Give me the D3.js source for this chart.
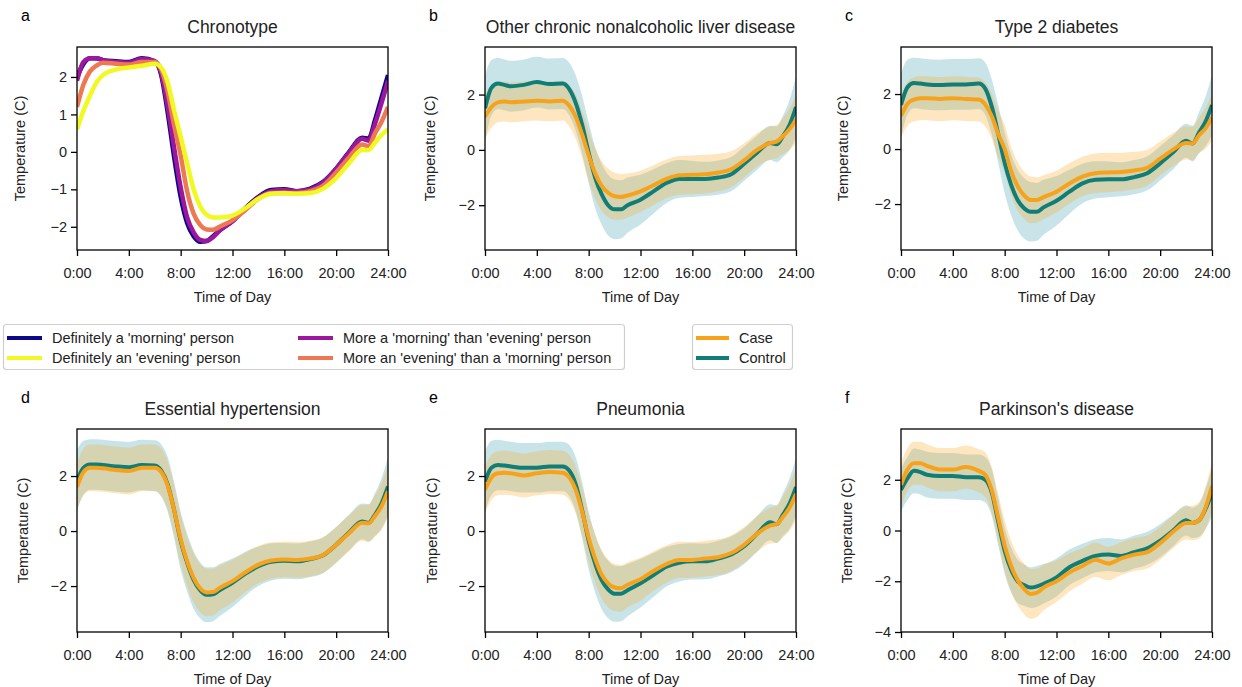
<!DOCTYPE html>
<html>
<head>
<meta charset="utf-8">
<script src="https://cdn.jsdelivr.net/npm/d3@7"></script>
<style>
  body { margin: 0; background: #fff; }
  svg { font-family: "Liberation Sans", Arial, sans-serif; }
</style>
</head>
<body>
<svg id="chart" width="1242" height="687"></svg>
<script>
// hours of the day at which every curve is sampled
const hours = [0, 0.5, 1, 1.5, 2, 3, 4, 5, 6, 6.5, 7, 7.5, 8, 8.5, 9, 9.5, 10, 10.5, 11, 12, 13, 14, 15, 16, 17, 18, 19, 20, 21, 22, 22.5, 23, 23.5, 24];
const hourTicks = [0, 4, 8, 12, 16, 20, 24];

// panel a: chronotype means
const chronotypeNames = ["Definitely a 'morning' person", "More a 'morning' than 'evening' person", "More an 'evening' than a 'morning' person", "Definitely an 'evening' person"];
const definitelyMorning = [2.0, 2.35, 2.5, 2.5, 2.45, 2.42, 2.4, 2.5, 2.42, 2.05, 1.05, -0.15, -1.2, -1.9, -2.25, -2.4, -2.38, -2.25, -2.1, -1.85, -1.5, -1.2, -1.02, -1.0, -1.05, -0.98, -0.8, -0.45, 0.0, 0.38, 0.35, 0.85, 1.45, 2.05];
const moreMorning = [1.9, 2.4, 2.5, 2.5, 2.45, 2.4, 2.38, 2.48, 2.42, 2.1, 1.2, 0.1, -0.95, -1.75, -2.15, -2.35, -2.38, -2.28, -2.1, -1.85, -1.52, -1.22, -1.05, -1.02, -1.05, -1.0, -0.82, -0.45, -0.02, 0.35, 0.3, 0.75, 1.3, 1.9];
const moreEvening = [1.2, 1.8, 2.15, 2.3, 2.38, 2.35, 2.33, 2.4, 2.4, 2.2, 1.6, 0.7, -0.1, -1.05, -1.65, -1.95, -2.07, -2.08, -2.0, -1.82, -1.55, -1.25, -1.1, -1.1, -1.1, -1.05, -0.9, -0.55, -0.15, 0.2, 0.15, 0.5, 0.8, 1.2];
const definitelyEvening = [0.6, 1.1, 1.5, 1.85, 2.05, 2.2, 2.25, 2.3, 2.35, 2.25, 1.85, 1.1, 0.4, -0.3, -1.0, -1.45, -1.68, -1.75, -1.75, -1.7, -1.5, -1.25, -1.12, -1.1, -1.12, -1.1, -0.98, -0.7, -0.3, 0.05, 0.05, 0.25, 0.45, 0.6];

// panels b-f: case / control means and band half-widths
const groupNames = ["Case", "Control"];

const liverCase = [1.2, 1.55, 1.72, 1.75, 1.72, 1.75, 1.78, 1.75, 1.78, 1.6, 1.2, 0.55, -0.2, -0.85, -1.3, -1.55, -1.68, -1.7, -1.65, -1.5, -1.28, -1.05, -0.92, -0.9, -0.88, -0.82, -0.7, -0.38, 0.0, 0.25, 0.3, 0.5, 0.75, 1.1];
const liverCaseSd = [0.8, 0.75, 0.72, 0.72, 0.72, 0.72, 0.72, 0.72, 0.72, 0.75, 0.8, 0.85, 0.9, 0.9, 0.9, 0.88, 0.85, 0.82, 0.8, 0.75, 0.72, 0.7, 0.7, 0.7, 0.7, 0.68, 0.65, 0.62, 0.6, 0.6, 0.6, 0.65, 0.75, 0.85];
const liverControl = [1.5, 2.25, 2.4, 2.35, 2.3, 2.35, 2.45, 2.38, 2.4, 2.2, 1.7, 0.9, -0.1, -1.0, -1.6, -2.0, -2.15, -2.15, -2.0, -1.8, -1.5, -1.2, -1.05, -1.05, -1.05, -1.0, -0.88, -0.5, -0.1, 0.25, 0.2, 0.5, 0.9, 1.55];
const liverControlSd = [1.2, 1.0, 0.92, 0.92, 0.92, 0.92, 0.92, 0.92, 0.92, 0.95, 1.0, 1.05, 1.1, 1.1, 1.1, 1.1, 1.08, 1.05, 1.0, 0.9, 0.8, 0.72, 0.68, 0.65, 0.62, 0.62, 0.62, 0.62, 0.62, 0.62, 0.65, 0.75, 0.9, 1.1];

const diabetesCase = [1.2, 1.65, 1.8, 1.85, 1.85, 1.82, 1.85, 1.82, 1.8, 1.62, 1.2, 0.55, 0.0, -0.8, -1.35, -1.68, -1.85, -1.85, -1.75, -1.55, -1.25, -1.0, -0.88, -0.85, -0.83, -0.78, -0.68, -0.35, -0.02, 0.22, 0.2, 0.5, 0.75, 1.15];
const diabetesCaseSd = [0.8, 0.8, 0.8, 0.8, 0.8, 0.8, 0.8, 0.8, 0.8, 0.8, 0.82, 0.85, 0.88, 0.88, 0.88, 0.86, 0.85, 0.82, 0.8, 0.76, 0.73, 0.72, 0.72, 0.72, 0.7, 0.68, 0.65, 0.62, 0.6, 0.6, 0.6, 0.65, 0.75, 0.85];
const diabetesControl = [1.6, 2.25, 2.4, 2.38, 2.35, 2.33, 2.35, 2.35, 2.38, 2.2, 1.55, 0.55, -0.5, -1.3, -1.85, -2.15, -2.28, -2.28, -2.12, -1.88, -1.55, -1.25, -1.12, -1.1, -1.1, -1.02, -0.88, -0.52, -0.12, 0.3, 0.2, 0.6, 1.0, 1.6];
const diabetesControlSd = [1.15, 1.0, 0.92, 0.92, 0.92, 0.92, 0.92, 0.92, 0.92, 0.95, 1.0, 1.05, 1.1, 1.1, 1.1, 1.1, 1.08, 1.05, 1.0, 0.9, 0.8, 0.72, 0.68, 0.65, 0.62, 0.62, 0.62, 0.62, 0.62, 0.62, 0.65, 0.75, 0.9, 1.1];

const hypertensionCase = [1.6, 2.15, 2.3, 2.3, 2.28, 2.22, 2.18, 2.3, 2.3, 2.15, 1.65, 0.75, -0.3, -1.1, -1.7, -2.08, -2.23, -2.22, -2.07, -1.82, -1.5, -1.22, -1.07, -1.03, -1.05, -1.0, -0.87, -0.5, -0.08, 0.3, 0.28, 0.55, 0.9, 1.45];
const hypertensionCaseSd = [0.85, 0.85, 0.85, 0.85, 0.85, 0.85, 0.85, 0.85, 0.85, 0.86, 0.88, 0.9, 0.9, 0.9, 0.9, 0.88, 0.87, 0.85, 0.82, 0.78, 0.72, 0.68, 0.66, 0.65, 0.65, 0.65, 0.65, 0.65, 0.65, 0.65, 0.68, 0.75, 0.85, 0.95];
const hypertensionControl = [1.85, 2.3, 2.42, 2.42, 2.4, 2.35, 2.32, 2.4, 2.38, 2.2, 1.7, 0.75, -0.35, -1.15, -1.78, -2.15, -2.32, -2.3, -2.15, -1.88, -1.55, -1.28, -1.12, -1.08, -1.1, -1.02, -0.88, -0.5, -0.05, 0.35, 0.3, 0.6, 1.0, 1.62];
const hypertensionControlSd = [1.1, 0.98, 0.92, 0.92, 0.92, 0.92, 0.92, 0.92, 0.92, 0.95, 1.0, 1.02, 1.05, 1.05, 1.05, 1.02, 1.0, 0.98, 0.95, 0.88, 0.8, 0.72, 0.68, 0.65, 0.65, 0.65, 0.65, 0.65, 0.65, 0.65, 0.68, 0.78, 0.92, 1.05];

const pneumoniaCase = [1.5, 1.95, 2.1, 2.12, 2.1, 2.02, 2.1, 2.15, 2.12, 1.95, 1.5, 0.7, -0.25, -1.0, -1.58, -1.9, -2.05, -2.08, -1.95, -1.75, -1.45, -1.2, -1.05, -1.05, -1.0, -0.95, -0.8, -0.5, -0.1, 0.2, 0.25, 0.52, 0.85, 1.35];
const pneumoniaCaseSd = [0.85, 0.82, 0.8, 0.8, 0.8, 0.8, 0.8, 0.8, 0.8, 0.82, 0.85, 0.88, 0.88, 0.88, 0.88, 0.87, 0.86, 0.85, 0.82, 0.78, 0.72, 0.68, 0.66, 0.65, 0.65, 0.65, 0.65, 0.65, 0.65, 0.65, 0.68, 0.75, 0.85, 0.95];
const pneumoniaControl = [1.8, 2.3, 2.4, 2.38, 2.35, 2.3, 2.3, 2.35, 2.35, 2.2, 1.7, 0.75, -0.35, -1.18, -1.78, -2.12, -2.28, -2.28, -2.15, -1.9, -1.6, -1.3, -1.15, -1.1, -1.1, -1.0, -0.85, -0.55, -0.1, 0.32, 0.25, 0.6, 1.0, 1.6];
const pneumoniaControlSd = [1.1, 0.98, 0.92, 0.9, 0.9, 0.9, 0.9, 0.9, 0.9, 0.93, 0.98, 1.02, 1.05, 1.05, 1.05, 1.05, 1.02, 1.0, 0.95, 0.88, 0.8, 0.72, 0.68, 0.66, 0.65, 0.65, 0.65, 0.65, 0.65, 0.65, 0.68, 0.78, 0.92, 1.05];

const parkinsonsCase = [1.8, 2.4, 2.65, 2.65, 2.55, 2.4, 2.4, 2.5, 2.35, 2.2, 1.6, 0.5, -0.6, -1.4, -1.95, -2.3, -2.5, -2.45, -2.25, -2.0, -1.65, -1.4, -1.15, -1.3, -1.1, -0.95, -0.85, -0.5, -0.05, 0.3, 0.3, 0.4, 0.9, 1.75];
const parkinsonsCaseSd = [0.85, 0.85, 0.85, 0.85, 0.85, 0.85, 0.85, 0.85, 0.85, 0.88, 0.9, 0.95, 1.0, 1.0, 1.0, 1.0, 0.98, 0.95, 0.9, 0.82, 0.75, 0.7, 0.68, 0.66, 0.65, 0.65, 0.65, 0.65, 0.65, 0.65, 0.68, 0.72, 0.82, 0.95];
const parkinsonsControl = [1.6, 2.05, 2.35, 2.3, 2.2, 2.15, 2.15, 2.1, 2.1, 2.0, 1.5, 0.35, -0.8, -1.55, -2.0, -2.15, -2.25, -2.2, -2.1, -1.85, -1.45, -1.2, -1.0, -0.95, -1.0, -0.85, -0.7, -0.4, 0.0, 0.4, 0.3, 0.4, 0.85, 1.5];
const parkinsonsControlSd = [0.85, 0.85, 0.88, 0.88, 0.9, 0.9, 0.9, 0.9, 0.9, 0.9, 0.92, 0.92, 0.9, 0.88, 0.85, 0.82, 0.8, 0.8, 0.78, 0.75, 0.7, 0.68, 0.66, 0.65, 0.65, 0.65, 0.65, 0.65, 0.62, 0.6, 0.6, 0.65, 0.8, 0.95];

// colours
const chronotypeColors = ["#0d0887", "#9c179e", "#ed7953", "#f0f921"];
const caseColor = "#f7a21b";
const controlColor = "#107d76";
const caseBand = "#f8ac2d";
const controlBand = "#4aa6b5";

const svg = d3.select("#chart");

class TemperaturePanel {
    constructor(_config, _series) {
        this.config = {
            letter: _config.letter,
            title: _config.title,
            left: _config.left,
            top: _config.top,
            width: 311,
            height: 203,
            yDomain: _config.yDomain,
            yTicks: _config.yTicks,
            lineWidth: _config.lineWidth || 4,
            labelGap: _config.labelGap || 50
        };
        this.series = _series;
        this.initVis();
    }

    initVis() {
        const vis = this;
        const c = vis.config;

        vis.chartArea = svg.append("g")
            .attr("transform", `translate(${c.left}, ${c.top})`);

        vis.xScale = d3.scaleLinear().domain([0, 24]).range([0, c.width]);
        vis.yScale = d3.scaleLinear().domain(c.yDomain).range([c.height, 0]);

        const clipId = "clip-" + c.letter;
        vis.chartArea.append("clipPath").attr("id", clipId)
            .append("rect").attr("width", c.width).attr("height", c.height);
        vis.plot = vis.chartArea.append("g").attr("clip-path", `url(#${clipId})`);

        // Axes
        vis.xAxis = vis.chartArea.append("g")
            .attr("transform", `translate(0, ${c.height})`);
        vis.yAxis = vis.chartArea.append("g");

        // Titles and labels
        svg.append("text")
            .attr("x", c.left - 56)
            .attr("y", c.top - 26)
            .attr("font-size", 16)
            .text(c.letter);

        svg.append("text")
            .attr("x", c.left + c.width / 2)
            .attr("y", c.top - 14)
            .attr("text-anchor", "middle")
            .attr("font-size", 17.5)
            .attr("fill", "#222")
            .text(c.title);

        svg.append("text")
            .attr("x", c.left + c.width / 2)
            .attr("y", c.top + c.height + 52)
            .attr("text-anchor", "middle")
            .attr("font-size", 14.5)
            .attr("fill", "#222")
            .text("Time of Day");

        svg.append("text")
            .attr("transform", `translate(${c.left - c.labelGap}, ${c.top + c.height / 2}) rotate(-90)`)
            .attr("text-anchor", "middle")
            .attr("font-size", 14.5)
            .attr("fill", "#222")
            .text("Temperature (C)");

        vis.updateVis();
    }

    updateVis() {
        const vis = this;
        const c = vis.config;

        const area = d3.area()
            .x((d, i) => vis.xScale(hours[i]))
            .y0((d, i) => vis.yScale(d.mean[i] - d.sd[i]))
            .y1((d, i) => vis.yScale(d.mean[i] + d.sd[i]))
            .curve(d3.curveMonotoneX);

        const line = d3.line()
            .x((d, i) => vis.xScale(hours[i]))
            .y(d => vis.yScale(d))
            .curve(d3.curveMonotoneX);

        // bands first, then the mean lines
        vis.series.filter(s => s.sd).forEach(s => {
            const rows = s.mean.map(() => s);
            vis.plot.append("path")
                .attr("d", area(rows))
                .attr("fill", s.band)
                .attr("fill-opacity", 0.3);
        });

        vis.series.forEach(s => {
            vis.plot.append("path")
                .attr("d", line(s.mean))
                .attr("fill", "none")
                .attr("stroke", s.color)
                .attr("stroke-width", c.lineWidth)
                .attr("stroke-linejoin", "round");
        });

        vis.xAxis.call(d3.axisBottom(vis.xScale)
            .tickValues(hourTicks)
            .tickFormat(d => d + ":00")
            .tickSize(6)
            .tickPadding(12));
        vis.yAxis.call(d3.axisLeft(vis.yScale)
            .tickValues(c.yTicks)
            .tickFormat(d3.format("d"))
            .tickSize(6)
            .tickPadding(4));

        [vis.xAxis, vis.yAxis].forEach(ax => {
            ax.select(".domain").remove();
            ax.selectAll("line").attr("stroke", "#000").attr("stroke-width", 1.3);
            ax.selectAll("text").attr("font-size", 14.5).attr("fill", "#222")
                .attr("font-family", "Liberation Sans, Arial, sans-serif");
        });

        vis.chartArea.append("rect")
            .attr("width", c.width)
            .attr("height", c.height)
            .attr("fill", "none")
            .attr("stroke", "#000")
            .attr("stroke-width", 1.3);
    }
}

// draw order: control band, case band, control line, case line
const diseaseSeries = (caseMean, caseSd, controlMean, controlSd) => [
    { mean: controlMean, sd: controlSd, color: controlColor, band: controlBand },
    { mean: caseMean, sd: caseSd, color: caseColor, band: caseBand }
];

new TemperaturePanel({ letter: "a", title: "Chronotype", left: 77, top: 47, yDomain: [-2.62, 2.8], yTicks: [-2, -1, 0, 1, 2], lineWidth: 4.5, labelGap: 52 },
    [definitelyMorning, moreMorning, moreEvening, definitelyEvening].map((m, i) => ({ mean: m, color: chronotypeColors[i] })));

new TemperaturePanel({ letter: "b", title: "Other chronic nonalcoholic liver disease", left: 485, top: 47, yDomain: [-3.62, 3.72], yTicks: [-2, 0, 2] },
    diseaseSeries(liverCase, liverCaseSd, liverControl, liverControlSd));

new TemperaturePanel({ letter: "c", title: "Type 2 diabetes", left: 901, top: 47, yDomain: [-3.67, 3.71], yTicks: [-2, 0, 2], labelGap: 53 },
    diseaseSeries(diabetesCase, diabetesCaseSd, diabetesControl, diabetesControlSd));

new TemperaturePanel({ letter: "d", title: "Essential hypertension", left: 77, top: 429, yDomain: [-3.67, 3.71], yTicks: [-2, 0, 2], labelGap: 49 },
    diseaseSeries(hypertensionCase, hypertensionCaseSd, hypertensionControl, hypertensionControlSd));

new TemperaturePanel({ letter: "e", title: "Pneumonia", left: 485, top: 429, yDomain: [-3.67, 3.71], yTicks: [-2, 0, 2], labelGap: 48 },
    diseaseSeries(pneumoniaCase, pneumoniaCaseSd, pneumoniaControl, pneumoniaControlSd));

new TemperaturePanel({ letter: "f", title: "Parkinson's disease", left: 901, top: 429, yDomain: [-4.0, 4.0], yTicks: [-4, -2, 0, 2], labelGap: 49 },
    diseaseSeries(parkinsonsCase, parkinsonsCaseSd, parkinsonsControl, parkinsonsControlSd));

// Legends
const chronoLegend = svg.append("g");
chronoLegend.append("rect")
    .attr("x", 3.5).attr("y", 324.5).attr("width", 621).attr("height", 45).attr("rx", 3)
    .attr("fill", "#fff").attr("stroke", "#cfcfcf").attr("stroke-width", 1.2);
const legendOrder = [0, 3, 1, 2];
legendOrder.forEach((k, i) => {
    const x0 = i < 2 ? 7 : 298;
    const y0 = 338 + (i % 2) * 20;
    chronoLegend.append("line")
        .attr("x1", x0).attr("x2", x0 + 35).attr("y1", y0).attr("y2", y0)
        .attr("stroke", chronotypeColors[k]).attr("stroke-width", 4);
    chronoLegend.append("text")
        .attr("x", x0 + 45).attr("y", y0 + 5)
        .attr("font-size", 14.5).attr("fill", "#222")
        .text(chronotypeNames[k]);
});

const groupLegend = svg.append("g");
groupLegend.append("rect")
    .attr("x", 692.5).attr("y", 324.5).attr("width", 100).attr("height", 45).attr("rx", 3)
    .attr("fill", "#fff").attr("stroke", "#cfcfcf").attr("stroke-width", 1.2);
[caseColor, controlColor].forEach((col, i) => {
    const y0 = 338 + i * 20;
    groupLegend.append("line")
        .attr("x1", 696).attr("x2", 729).attr("y1", y0).attr("y2", y0)
        .attr("stroke", col).attr("stroke-width", 4);
    groupLegend.append("text")
        .attr("x", 739).attr("y", y0 + 5)
        .attr("font-size", 14.5).attr("fill", "#222")
        .text(groupNames[i]);
});
</script>
</body>
</html>
